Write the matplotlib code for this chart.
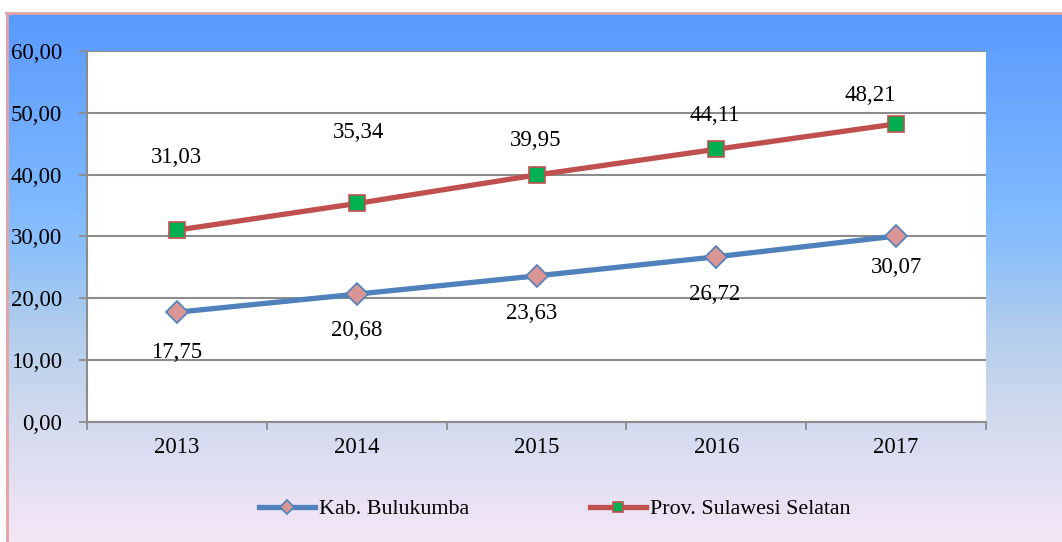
import matplotlib.pyplot as plt
import numpy as np
from matplotlib.colors import LinearSegmentedColormap

years = ["2013", "2014", "2015", "2016", "2017"]
bulukumba = [17.75, 20.68, 23.63, 26.72, 30.07]
sulsel = [31.03, 35.34, 39.95, 44.11, 48.21]
labels_bulukumba = ["17,75", "20,68", "23,63", "26,72", "30,07"]
labels_sulsel = ["31,03", "35,34", "39,95", "44,11", "48,21"]
yticks = [0, 10, 20, 30, 40, 50, 60]

# label offsets (pixels) relative to each point
off_blue = [(0, -40), (0, -36), (-5, -38), (-2, -38), (0, -31)]
off_red = [(0, 73), (2, 71), (-1, 34), (-2, 34), (-26, 28)]

SERIF = "Liberation Serif"


def main():
    fig = plt.figure(figsize=(10.62, 5.42), dpi=100)

    # gradient background below the white top strip
    bg = fig.add_axes([6 / 1062, 0, 1 - 6 / 1062, 1 - 13 / 542], zorder=-10)
    cmap = LinearSegmentedColormap.from_list(
        "bg",
        [(0.0, "#5a9afe"), (0.35, "#7db8ff"), (0.45, "#8cc0fa"),
         (0.6, "#b2cdec"), (0.75, "#cfd9ee"), (0.88, "#e2e0f3"), (1.0, "#f5e6f6")],
    )
    bg.imshow(np.linspace(0, 1, 256).reshape(-1, 1), aspect="auto", cmap=cmap,
              extent=[0, 1, 0, 1])
    bg.set_axis_off()
    # pink border lines (top and left)
    fig.add_artist(plt.Line2D([6 / 1062, 1], [1 - 12.5 / 542] * 2, color="#e6a3a3", lw=2))
    fig.add_artist(plt.Line2D([6.5 / 1062] * 2, [0, 1 - 12.5 / 542], color="#e6a3a3", lw=2))

    L, R, T, B = 87, 986, 51, 422
    ax = fig.add_axes([L / 1062, 1 - B / 542, (R - L) / 1062, (B - T) / 542])
    ax.set_facecolor("white")

    x = np.arange(len(years))
    ax.plot(x, bulukumba, color="#4f81bd", lw=3.8, marker="D", ms=11,
            mfc="#d99694", mec="#4f81bd", mew=1.2, label="Kab. Bulukumba", zorder=3)
    ax.plot(x, sulsel, color="#c0504d", lw=3.8, marker="s", ms=12,
            mfc="#00b050", mec="#c0504d", mew=1.2, label="Prov. Sulawesi Selatan", zorder=3)

    for xi, yi, t, o in zip(x, bulukumba, labels_bulukumba, off_blue):
        ax.annotate(t, (xi, yi), xytext=(o[0] * 0.72, o[1] * 0.72), textcoords="offset points",
                    ha="center", va="center", fontsize=16.5, family=SERIF)
    for xi, yi, t, o in zip(x, sulsel, labels_sulsel, off_red):
        ax.annotate(t, (xi, yi), xytext=(o[0] * 0.72, o[1] * 0.72), textcoords="offset points",
                    ha="center", va="center", fontsize=16.5, family=SERIF)

    ax.set_xlim(-0.5, len(years) - 0.5)
    ax.set_ylim(0, 60)
    ax.set_yticks(yticks)
    ax.set_yticklabels([f"{v:.2f}".replace(".", ",") for v in yticks], fontsize=16.5, family=SERIF)
    ax.set_xticks(x)
    ax.set_xticklabels(years, fontsize=16.5, family=SERIF)
    ax.set_xticks(np.arange(-0.5, len(years)), minor=True)
    ax.tick_params(axis="x", which="major", length=0, pad=11)
    ax.tick_params(axis="x", which="minor", length=6, width=1.3, color="#8c8c8c")
    ax.tick_params(axis="y", length=6, width=1.3, color="#8c8c8c", pad=12)
    ax.grid(axis="y", color="#8c8c8c", lw=1.5)
    ax.set_axisbelow(True)
    for s in ["top", "right"]:
        ax.spines[s].set_visible(False)
    for s in ["left", "bottom"]:
        ax.spines[s].set_color("#8c8c8c")
        ax.spines[s].set_linewidth(1.5)

    fig.legend(loc="center", bbox_to_anchor=(555 / 1062, 1 - 509 / 542), ncol=2, frameon=False,
               prop={"family": SERIF, "size": 15.8}, handlelength=2.55, handletextpad=0.18,
               columnspacing=5.5, markerscale=0.62)

    fig.savefig("out.png", dpi=100)


if __name__ == "__main__":
    main()
